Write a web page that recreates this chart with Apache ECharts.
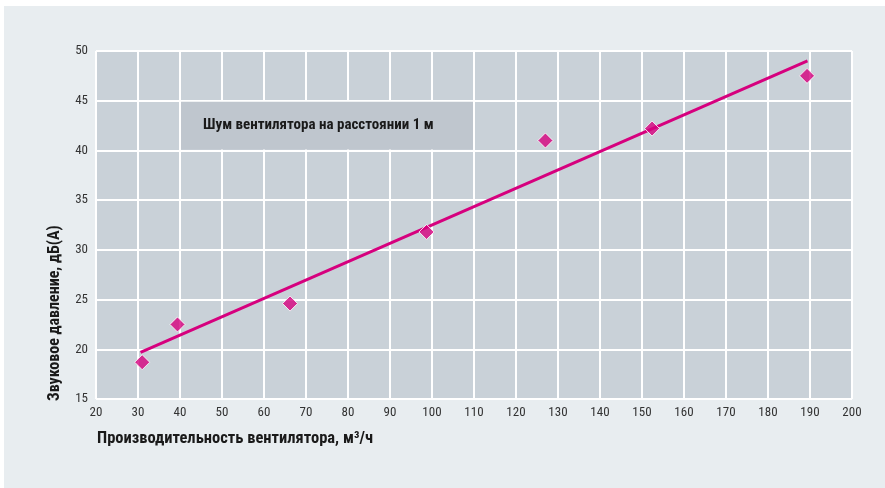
<!DOCTYPE html>
<html>
<head>
<meta charset="utf-8">
<script src="https://cdn.jsdelivr.net/npm/echarts@6/dist/echarts.min.js"></script>
<style>
  html, body { margin: 0; padding: 0; background: #ffffff; }
  #panel { position: absolute; left: 4px; top: 6px; width: 881px; height: 482px; background: #e8edf0; }
  #chart { position: absolute; left: 0; top: 0; width: 885px; height: 488px; }
</style>
</head>
<body>
<div id="panel"></div>
<div id="chart"></div>
<script>
// Fan capacity (m³/h) and measured sound pressure at 1 m, dB(A)
const capacity = [31, 39.4, 66.2, 98.7, 127, 152.4, 189.3];
const noise = [18.7, 22.5, 24.6, 31.8, 41, 42.2, 47.5];
// Straight trend line endpoints
const trendX = [30.6, 189.4];
const trendY = [19.7, 49.0];
// Axis ranges
const xMin = 20, xMax = 200, xStep = 10;
const yMin = 15, yMax = 50, yStep = 5;
// Caption box extent in data units
const boxX = [40, 110];
const boxY = [40, 45];
const caption = 'Шум вентилятора на расстоянии 1 м';
const xTitle = 'Производительность вентилятора, м³/ч';
const yTitle = 'Звуковое давление, дБ(А)';

const narrow = "'Liberation Sans Narrow', 'Roboto Condensed', 'DejaVu Sans Condensed', sans-serif";
const pink = '#d6007e';

const chart = echarts.init(document.getElementById('chart'), null, { renderer: 'canvas' });
chart.setOption({
  animation: false,
  backgroundColor: 'transparent',
  grid: { left: 96, top: 51, right: 33, bottom: 89, show: true, backgroundColor: '#c9d1d8', borderWidth: 0 },
  xAxis: {
    type: 'value', min: xMin, max: xMax, interval: xStep,
    axisLine: { show: false }, axisTick: { show: false },
    axisLabel: { color: '#333', fontFamily: narrow, fontSize: 13, margin: 7 },
    splitLine: { show: true, lineStyle: { color: '#ffffff', width: 2 } }
  },
  yAxis: {
    type: 'value', min: yMin, max: yMax, interval: yStep,
    axisLine: { show: false }, axisTick: { show: false },
    axisLabel: { color: '#333', fontFamily: narrow, fontSize: 13, margin: 8 },
    splitLine: { show: true, lineStyle: { color: '#ffffff', width: 2 } }
  },
  graphic: [
    { type: 'text', left: 97, top: 430, style: { text: xTitle, font: "bold 16.5px " + narrow, fill: '#1a1a1a' } },
    { type: 'text', x: 63, y: 401, rotation: Math.PI / 2,
      style: { text: yTitle, font: "bold 16px " + narrow, fill: '#1a1a1a', textAlign: 'left', textVerticalAlign: 'bottom' } }
  ],
  series: [
    {
      type: 'line',
      data: trendX.map((x, i) => [x, trendY[i]]),
      showSymbol: false, symbol: 'none',
      lineStyle: { color: pink, width: 3 },
      z: 3,
      markArea: {
        silent: true,
        itemStyle: { color: '#bfc6ce' },
        label: {
          show: true, position: 'insideLeft', distance: 22,
          color: '#1a1a1a', fontFamily: narrow, fontWeight: 'bold', fontSize: 15
        },
        data: [[
          { name: caption, coord: [boxX[0] + 0.25, boxY[1] - 0.1] },
          { coord: [boxX[1] - 0.25, boxY[0] + 0.1] }
        ]]
      }
    },
    {
      type: 'scatter',
      data: capacity.map((x, i) => [x, noise[i]]),
      symbol: 'diamond', symbolSize: 15,
      itemStyle: { color: pink, borderColor: '#ffffff', borderWidth: 1 },
      z: 4
    }
  ]
});
</script>
</body>
</html>
